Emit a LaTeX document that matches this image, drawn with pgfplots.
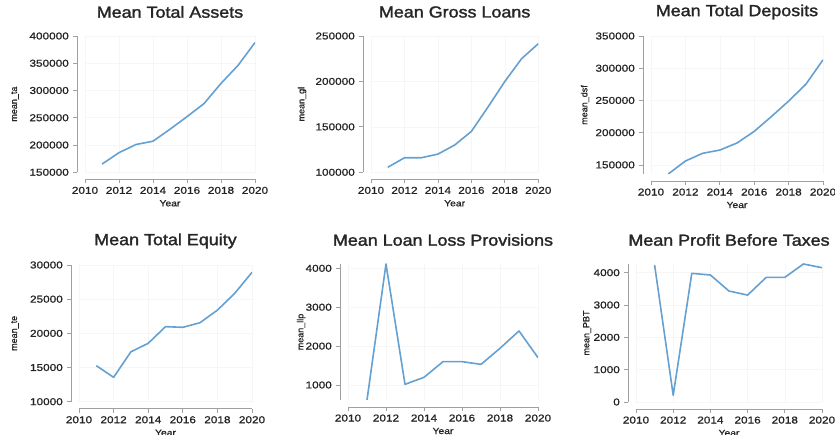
\documentclass[border=0pt]{standalone}
\usepackage{pgfplots}
\pgfplotsset{compat=1.18}
\usepackage{fontspec}
\setmainfont{Liberation Sans}
\newfontfamily\heavyfont{Liberation Sans}[FakeBold=1.6]
\newfontfamily\medfont{Liberation Sans}[FakeBold=0.8]
\definecolor{lineblue}{RGB}{100,160,210}
\definecolor{axgray}{RGB}{160,160,160}
\definecolor{txtgray}{RGB}{35,35,35}
\pgfplotsset{
  stpanel/.style={
    scale only axis,
    anchor=south west,
    xmin=2010, xmax=2020,
    axis x line*=bottom, axis y line*=left,
    axis x line shift=7pt, axis y line shift=8pt,
    axis line style={axgray, line width=0.8pt},
    tick align=outside, major tick length=4pt,
    tick style={axgray, line width=0.8pt},
    xtick={2010,2012,...,2020},
    ticklabel style={font=\medfont\fontsize{10}{11}\selectfont, text=txtgray, xscale=1.18},
    /pgf/number format/assume math mode=true,
    /pgf/number format/fixed,
    /pgf/number format/precision=0,
    /pgf/number format/1000 sep={},
    scaled ticks=false,
    xmajorgrids, ymajorgrids,
    grid style={gray!7, line width=0.6pt},
    title style={at={(axis description cs:0.5,1)}, anchor=center, yshift=18pt,
      font=\heavyfont\fontsize{16}{18}\selectfont, text=black!85, xscale=1.12},
    xlabel={Year},
    xlabel style={at={(axis description cs:0.5,0)}, anchor=center, yshift=-31pt,
      font=\medfont\fontsize{9}{10}\selectfont, text=txtgray, xscale=1.15},
    ylabel style={anchor=center, font=\medfont\fontsize{9}{10}\selectfont, text=txtgray},
    cycle list={{lineblue}},
    every axis plot post/.append style={lineblue, line width=1.6pt, line join=round, mark=none},
  }
}
\begin{document}
\begin{tikzpicture}[x=1pt,y=1pt]
% Panel 1
\begin{axis}[stpanel, at={(85pt,262.7pt)}, width=170pt, height=136.3pt,
  ymin=150000, ymax=400000, ytick={150000,200000,...,400000},
  title={Mean Total Assets}, ylabel={mean\_ta},
  ylabel style={at={(axis description cs:-0.412,0.5)}}]
\addplot coordinates {(2011,165000)(2012,186000)(2013,201000)(2014,207000)(2015,229000)(2016,252000)(2017,276000)(2018,313000)(2019,346000)(2020,388000)};
\end{axis}
% Panel 2
\begin{axis}[stpanel, at={(371pt,262.7pt)}, width=167.3pt, height=136.3pt,
  ymin=100000, ymax=250000, ytick={100000,150000,200000,250000},
  title={Mean Gross Loans}, ylabel={mean\_gl},
  ylabel style={at={(axis description cs:-0.412,0.5)}}]
\addplot coordinates {(2011,105500)(2012,116000)(2013,116000)(2014,120000)(2015,130000)(2016,145000)(2017,172000)(2018,200000)(2019,225000)(2020,241500)};
\end{axis}
% Panel 3
\begin{axis}[stpanel, at={(651pt,261pt)}, width=172pt, height=138pt,
  ymin=135900, ymax=350000, ytick={150000,200000,...,350000},
  title={Mean Total Deposits}, ylabel={mean\_dsf},
  ylabel style={at={(axis description cs:-0.384,0.5)}}]
\addplot coordinates {(2011,135900)(2012,156000)(2013,168000)(2014,173000)(2015,184000)(2016,202000)(2017,225000)(2018,249000)(2019,275000)(2020,313000)};
\end{axis}
% Panel 4
\begin{axis}[stpanel, at={(79pt,33.3pt)}, width=173pt, height=136.7pt,
  ymin=10000, ymax=30000, ytick={10000,15000,...,30000},
  title={Mean Total Equity}, ylabel={mean\_te},
  ylabel style={at={(axis description cs:-0.37,0.5)}}]
\addplot coordinates {(2011,15270)(2012,13560)(2013,17300)(2014,18540)(2015,20980)(2016,20880)(2017,21560)(2018,23400)(2019,25850)(2020,28930)};
\end{axis}
% Panel 5
\begin{axis}[stpanel, at={(348pt,35pt)}, width=190pt, height=136pt,
  ymin=614, ymax=4111, ytick={1000,2000,3000,4000},
  title={Mean Loan Loss Provisions}, ylabel={mean\_llp},
  ylabel style={at={(axis description cs:-0.247,0.5)}}]
\addplot coordinates {(2011,614)(2012,4111)(2013,1017)(2014,1197)(2015,1600)(2016,1600)(2017,1530)(2018,1943)(2019,2389)(2020,1703)};
\end{axis}
% Panel 6
\begin{axis}[stpanel, at={(636pt,33pt)}, width=186pt, height=138pt,
  ymin=0, ymax=4269, ytick={0,1000,...,4000},
  title={Mean Profit Before Taxes}, ylabel={mean\_PBT},
  ylabel style={at={(axis description cs:-0.263,0.5)}}]
\addplot coordinates {(2011,4238)(2012,207)(2013,3980)(2014,3928)(2015,3432)(2016,3307)(2017,3855)(2018,3855)(2019,4269)(2020,4155)};
\end{axis}
\pgfresetboundingbox
\path[use as bounding box] (0,0) rectangle (835pt,435pt);
\end{tikzpicture}
\end{document}
